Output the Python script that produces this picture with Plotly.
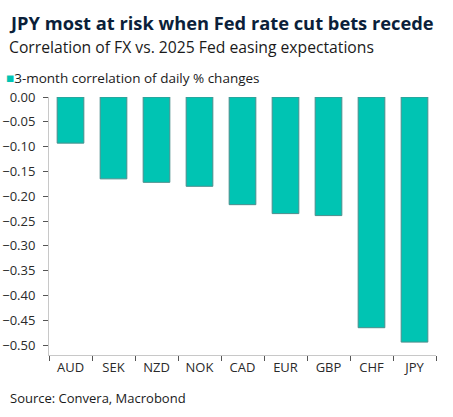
import plotly.graph_objects as go

categories = ["AUD", "SEK", "NZD", "NOK", "CAD", "EUR", "GBP", "CHF", "JPY"]
correlation = [-0.093, -0.165, -0.172, -0.180, -0.217, -0.235, -0.239, -0.465, -0.494]
y_ticks = [0.00, -0.05, -0.10, -0.15, -0.20, -0.25, -0.30, -0.35, -0.40, -0.45, -0.50]

title_text = "JPY most at risk when Fed rate cut bets recede"
subtitle_text = "Correlation of FX vs. 2025 Fed easing expectations"
legend_text = "3-month correlation of daily % changes"
source_text = "Source: Convera, Macrobond"

BAR = "#00C4B3"
FONT = "Open Sans"

fig = go.Figure()
fig.add_trace(go.Bar(
    x=categories, y=correlation, name=legend_text,
    marker=dict(color=BAR, line=dict(color="#4B8E8C", width=1)),
    width=0.62, showlegend=False,
))

W, H = 453, 417
L, R, T, B = 49, 17, 97, 62
pw, ph = W - L - R, H - T - B

def px(xp):
    return (xp - L) / pw

def py(yp):
    return (H - B - yp) / ph

fig.update_layout(
    width=W, height=H,
    margin=dict(l=L, r=R, t=T, b=B, autoexpand=False),
    paper_bgcolor="white", plot_bgcolor="white",
    font=dict(family=FONT, color="#333333"),
    annotations=[
        dict(text="<b>" + title_text + "</b>", x=px(7), y=py(23), xref="paper", yref="paper",
             xanchor="left", yanchor="middle", showarrow=False,
             font=dict(family=FONT, size=18.3, color="#0B1F3A")),
        dict(text=subtitle_text, x=px(7), y=py(47), xref="paper", yref="paper",
             xanchor="left", yanchor="middle", showarrow=False,
             font=dict(family=FONT, size=15.7, color="#1A1A1A")),
        dict(text='<span style="color:#00C4B3">■</span>' + legend_text, x=px(4), y=py(78),
             xref="paper", yref="paper", xanchor="left", yanchor="middle", showarrow=False,
             font=dict(family=FONT, size=13.5, color="#1A1A1A")),
        dict(text=source_text, x=px(8), y=py(398), xref="paper", yref="paper",
             xanchor="left", yanchor="middle", showarrow=False,
             font=dict(family=FONT, size=13, color="#1A1A1A")),
    ],
)
fig.update_yaxes(
    range=[-0.52, 0.0], tickvals=y_ticks, tickformat=".2f", automargin=False,
    showgrid=False, zeroline=False,
    showline=True, linecolor="#C8C8C8", linewidth=1,
    ticks="outside", ticklen=5, tickcolor="#555555", ticklabelstandoff=5,
    tickfont=dict(family=FONT, size=13, color="#2A2A2A"),
)
fig.update_xaxes(
    showgrid=False, showline=True, linecolor="#C8C8C8", linewidth=1, automargin=False,
    ticks="outside", ticklen=5, tickcolor="#555555", tickson="boundaries",
    tickfont=dict(family=FONT, size=13, color="#2A2A2A"),
)

fig.write_html("out.html", config={"displayModeBar": False},
               post_script="document.body.style.margin='0';")
